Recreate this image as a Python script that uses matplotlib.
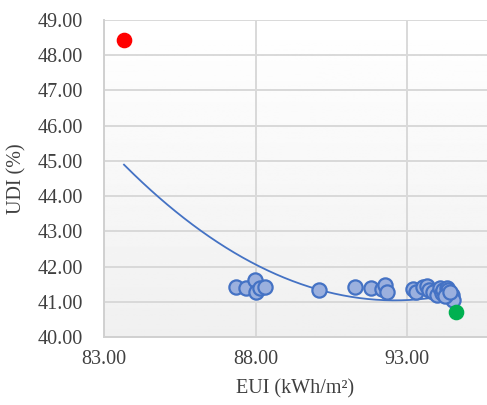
# scatter of UDI against EUI with a quadratic trend line
import numpy as np
import matplotlib.pyplot as plt

# EUI (kWh/m²) and UDI (%) of each design case
eui = [87.37, 87.70, 87.98, 88.03, 88.15, 88.31,
       90.09, 91.28, 91.81, 92.16, 92.27, 92.33,
       93.21, 93.30, 93.54, 93.65, 93.71, 93.87, 93.98, 94.09,
       94.14, 94.20, 94.31, 94.36, 94.47, 94.53, 94.25, 94.42]
udi = [41.42, 41.39, 41.61, 41.27, 41.38, 41.42,
       41.33, 41.42, 41.38, 41.36, 41.48, 41.27,
       41.36, 41.27, 41.42, 41.44, 41.33, 41.29, 41.19, 41.38,
       41.24, 41.33, 41.38, 41.33, 41.19, 41.05, 41.15, 41.27]

# best UDI case and best EUI case
best_udi = (83.66, 48.43)
best_eui = (94.62, 40.72)

# polynomial trend (order 2): y = a*x^2 + b*x + c
trend_coef = [0.0482, -8.92664, 454.3434]

x_ticks = [83, 88, 93]
y_ticks = [40, 41, 42, 43, 44, 45, 46, 47, 48, 49]

plt.rcParams['font.family'] = ['Liberation Serif', 'DejaVu Serif']

fig = plt.figure(figsize=(4.87, 4.05), dpi=100)
ax = fig.add_axes([104 / 487, 68 / 405, 383 / 487, 317 / 405])

# light vertical gradient behind the points, white at the top
grad = np.linspace(1.0, 0.94, 256).reshape(-1, 1)
ax.imshow(grad, cmap='gray', vmin=0, vmax=1, aspect='auto', origin='upper',
          extent=[83, 95.64, 40, 49], zorder=0)

ax.grid(color='#D9D9D9', linewidth=1.4, zorder=1)
ax.set_axisbelow(True)

# trend line across the range of the cases
xs = np.linspace(best_udi[0], best_eui[0], 200)
ax.plot(xs, np.polyval(trend_coef, xs), color='#4472C4', linewidth=1.3, zorder=2)

ax.scatter(eui, udi, s=105, facecolor='#9BB0DE', edgecolor='#4472C4',
           linewidth=1.6, zorder=3)
ax.scatter(*best_udi, s=105, color='#FF0000', zorder=4)
ax.scatter(*best_eui, s=105, color='#00B050', zorder=4)

ax.set_xlim(83, 95.64)
ax.set_ylim(40, 49)
ax.set_xticks(x_ticks)
ax.set_yticks(y_ticks)
ax.set_xticklabels(['%.2f' % t for t in x_ticks])
ax.set_yticklabels(['%.2f' % t for t in y_ticks])
ax.tick_params(length=0, labelsize=14.5, colors='#404040')
ax.tick_params(axis='y', pad=15)
ax.tick_params(axis='x', pad=9)

for side in ['top', 'right']:
    ax.spines[side].set_visible(False)
for side in ['left', 'bottom']:
    ax.spines[side].set_color('#D0D0D0')
    ax.spines[side].set_linewidth(1.4)

ax.set_xlabel('EUI (kWh/m²)', fontsize=14.5, color='#404040', labelpad=8)
ax.set_ylabel('UDI (%)', fontsize=14.5, color='#404040', labelpad=8)

fig.savefig('out.png', dpi=100)
